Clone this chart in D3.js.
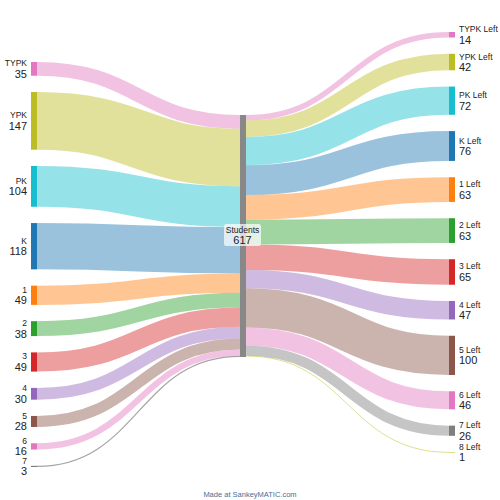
<html>
  <head>
    <script src="https://d3js.org/d3.v7.min.js"></script>
    <style>
      body {
        margin: 0;
      }
      text {
        font-family: "Liberation Sans", Arial, sans-serif;
        fill: #222;
      }
    </style>
  </head>

  <body>
    <svg id="svg1" width="500" height="500"></svg>

    <script>
      // left column (grade at start)
      let leftNames = ["TYPK", "YPK", "PK", "K", "1", "2", "3", "4", "5", "6", "7"];
      let leftValues = [35, 147, 104, 118, 49, 38, 49, 30, 28, 16, 3];
      let leftColors = ["#e377c2", "#bcbd22", "#17becf", "#1f77b4", "#ff7f0e", "#2ca02c",
        "#d62728", "#9467bd", "#8c564b", "#e377c2", "#7f7f7f"];

      // middle node
      let centerName = "Students";
      let centerValue = 617;
      let centerColor = "#888888";

      // right column (who left)
      let rightNames = ["TYPK Left", "YPK Left", "PK Left", "K Left", "1 Left", "2 Left",
        "3 Left", "4 Left", "5 Left", "6 Left", "7 Left", "8 Left"];
      let rightValues = [14, 42, 72, 76, 63, 63, 65, 47, 100, 46, 26, 1];
      let rightColors = ["#e377c2", "#bcbd22", "#17becf", "#1f77b4", "#ff7f0e", "#2ca02c",
        "#d62728", "#9467bd", "#8c564b", "#e377c2", "#7f7f7f", "#bcbd22"];

      let svg = d3.select("svg#svg1");

      let nodeW = 6;
      let pad = 16.3;
      let k = d3.scaleLinear().domain([0, centerValue]).range([0, 242]);
      let xCol = d3.scaleLinear().domain([0, 2]).range([31, 449]);
      let colTop = [62, 115, 32];

      // stack nodes of one column
      function stack(names, values, colors, col) {
        let y = colTop[col];
        return names.map((n, i) => {
          let h = k(values[i]);
          let node = { name: n, value: values[i], color: colors[i], x: xCol(col), y0: y, y1: y + h, col: col };
          y += h + pad;
          return node;
        });
      }

      let leftNodes = stack(leftNames, leftValues, leftColors, 0);
      let rightNodes = stack(rightNames, rightValues, rightColors, 2);
      let center = { name: centerName, value: centerValue, color: centerColor, x: xCol(1),
        y0: colTop[1], y1: colTop[1] + k(centerValue), col: 1 };

      let links = [];
      let yIn = center.y0;
      leftNodes.forEach((d) => {
        let w = k(d.value);
        links.push({ x0: d.x + nodeW, y0: d.y0 + w / 2, x1: center.x, y1: yIn + w / 2, w: w, color: d.color });
        yIn += w;
      });
      let yOut = center.y0;
      rightNodes.forEach((d) => {
        let w = k(d.value);
        links.push({ x0: center.x + nodeW, y0: yOut + w / 2, x1: d.x, y1: d.y0 + w / 2, w: w, color: d.color });
        yOut += w;
      });

      function linkPath(d) {
        let xm = (d.x0 + d.x1) / 2;
        return `M${d.x0},${d.y0}C${xm},${d.y0} ${xm},${d.y1} ${d.x1},${d.y1}`;
      }

      svg
        .append("g")
        .selectAll("path")
        .data(links)
        .join("path")
        .attr("d", linkPath)
        .attr("fill", "none")
        .attr("stroke", (d) => d.color)
        .attr("stroke-opacity", (d) => (d.w < 2 ? 0.7 : 0.45))
        .attr("stroke-width", (d) => Math.max(0.7, d.w));

      let allNodes = leftNodes.concat([center], rightNodes);

      svg
        .append("g")
        .selectAll("rect")
        .data(allNodes)
        .join("rect")
        .attr("x", (d) => d.x)
        .attr("y", (d) => d.y0)
        .attr("width", nodeW)
        .attr("height", (d) => Math.max(0.5, d.y1 - d.y0))
        .attr("fill", (d) => d.color);

      // labels on the side nodes
      let sideNodes = leftNodes.concat(rightNodes);
      let labels = svg
        .append("g")
        .selectAll("g")
        .data(sideNodes)
        .join("g")
        .attr("transform", (d) => {
          let cy = (d.y0 + d.y1) / 2;
          return d.col == 0 ? `translate(${d.x - 4},${cy})` : `translate(${d.x + nodeW + 4},${cy})`;
        })
        .attr("text-anchor", (d) => (d.col == 0 ? "end" : "start"));

      labels
        .append("text")
        .attr("y", -2.5)
        .attr("font-size", 8.5)
        .text((d) => d.name);
      labels
        .append("text")
        .attr("y", 9)
        .attr("font-size", 11)
        .text((d) => d.value);

      // center label with box
      let cy = (center.y0 + center.y1) / 2;
      let cx = center.x + nodeW / 2;
      svg
        .append("rect")
        .attr("x", cx - 19)
        .attr("y", cy - 12)
        .attr("width", 37)
        .attr("height", 22)
        .attr("rx", 2.5)
        .attr("fill", "#fff")
        .attr("fill-opacity", 0.7);
      svg
        .append("text")
        .attr("x", cx - 0.5)
        .attr("y", cy - 3)
        .attr("text-anchor", "middle")
        .attr("font-size", 8.5)
        .text(center.name);
      svg
        .append("text")
        .attr("x", cx - 0.5)
        .attr("y", cy + 8)
        .attr("text-anchor", "middle")
        .attr("font-size", 11)
        .text(center.value);

      svg
        .append("text")
        .attr("x", 250)
        .attr("y", 497)
        .attr("text-anchor", "middle")
        .attr("font-size", 7.5)
        .style("fill", "#3f6f99")
        .text("Made at SankeyMATIC.com");
    </script>
  </body>
</html>
